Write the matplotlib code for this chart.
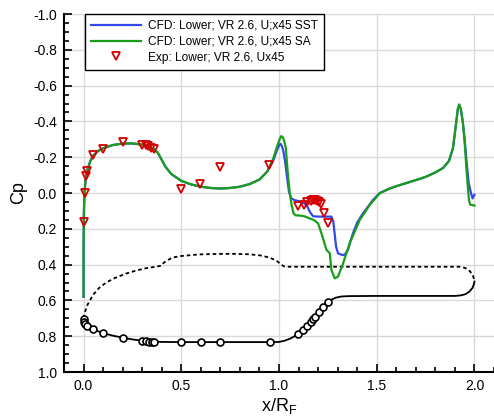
import matplotlib
matplotlib.use("Agg")
import matplotlib.pyplot as plt
from matplotlib.ticker import MultipleLocator

plt.rcParams['font.family'] = ['Liberation Sans', 'DejaVu Sans']
plt.rcParams['axes.unicode_minus'] = False

# CFD, SST model (lower surface)
sst_x = [0.000, 0.000, 0.002, 0.005, 0.010, 0.020, 0.035, 0.050, 0.075, 0.10,
         0.15, 0.20, 0.25, 0.30, 0.33, 0.36, 0.38, 0.40, 0.42, 0.45, 0.50,
         0.55, 0.60, 0.65, 0.70, 0.75, 0.80, 0.85, 0.90, 0.94, 0.97, 0.99,
         1.000, 1.007, 1.015, 1.022, 1.030, 1.041, 1.051, 1.063, 1.08, 1.10,
         1.13, 1.145, 1.16, 1.175, 1.20, 1.24, 1.268, 1.278, 1.285, 1.292,
         1.302, 1.32, 1.336, 1.353, 1.365, 1.38, 1.40, 1.43, 1.46, 1.48,
         1.515, 1.56, 1.60, 1.65, 1.70, 1.75, 1.80, 1.84, 1.87, 1.89, 1.905,
         1.915, 1.922, 1.93, 1.94, 1.95, 1.96, 1.97, 1.98, 1.99, 2.0]
sst_cp = [0.58, 0.30, 0.10, 0.00, -0.07, -0.13, -0.18, -0.21, -0.235, -0.25,
          -0.268, -0.276, -0.277, -0.27, -0.262, -0.245, -0.225, -0.185, -0.145, -0.105, -0.068,
          -0.048, -0.035, -0.028, -0.025, -0.028, -0.035, -0.05, -0.075, -0.12, -0.18, -0.24,
          -0.265, -0.275, -0.262, -0.235, -0.185, -0.09, -0.007, 0.03, 0.04, 0.045,
          0.058, 0.075, 0.11, 0.13, 0.132, 0.132, 0.132, 0.16, 0.23, 0.30,
          0.337, 0.345, 0.346, 0.318, 0.27, 0.22, 0.165, 0.113, 0.07, 0.04,
          0.0, -0.022, -0.038, -0.055, -0.072, -0.09, -0.115, -0.14, -0.18, -0.25, -0.38,
          -0.47, -0.49, -0.47, -0.40, -0.30, -0.17, -0.06, -0.01, 0.03, 0.01]

# CFD, SA model (lower surface)
sa_x = [0.000, 0.000, 0.002, 0.005, 0.010, 0.020, 0.035, 0.050, 0.075, 0.10,
        0.15, 0.20, 0.25, 0.30, 0.33, 0.36, 0.38, 0.40, 0.42, 0.45, 0.50,
        0.55, 0.60, 0.65, 0.70, 0.75, 0.80, 0.85, 0.90, 0.94, 0.97, 0.99,
        1.005, 1.012, 1.02, 1.028, 1.035, 1.045, 1.055, 1.065, 1.075, 1.085,
        1.10, 1.13, 1.157, 1.18, 1.20, 1.217, 1.243, 1.26, 1.268, 1.285,
        1.302, 1.328, 1.362, 1.413, 1.464, 1.515, 1.56, 1.60, 1.65, 1.70,
        1.75, 1.80, 1.84, 1.87, 1.89, 1.905, 1.915, 1.922, 1.93, 1.94, 1.95,
        1.96, 1.965, 1.972, 1.978, 1.99, 2.0]
sa_cp = [0.58, 0.30, 0.10, 0.00, -0.07, -0.13, -0.18, -0.21, -0.235, -0.25,
         -0.268, -0.276, -0.277, -0.27, -0.262, -0.245, -0.225, -0.185, -0.145, -0.105, -0.068,
         -0.048, -0.035, -0.028, -0.025, -0.028, -0.035, -0.05, -0.075, -0.12, -0.19, -0.26,
         -0.305, -0.318, -0.31, -0.285, -0.25, -0.11, 0.0, 0.07, 0.115, 0.125,
         0.125, 0.13, 0.142, 0.152, 0.17, 0.225, 0.318, 0.337, 0.43, 0.477,
         0.467, 0.393, 0.28, 0.151, 0.067, 0.002, -0.022, -0.038, -0.055, -0.072,
         -0.09, -0.115, -0.14, -0.18, -0.25, -0.38, -0.47, -0.495, -0.47, -0.40, -0.28,
         -0.12, -0.05, 0.04, 0.065, 0.068, 0.07]

# Experiment (lower surface taps)
exp_x = [0.000, 0.008, 0.014, 0.019, 0.046, 0.097, 0.20, 0.30, 0.317, 0.33,
         0.346, 0.363, 0.50, 0.595, 0.70, 0.95, 1.097, 1.127, 1.145, 1.162,
         1.174, 1.186, 1.196, 1.204, 1.216, 1.232, 1.253]
exp_cp = [0.16, 0.0, -0.095, -0.125, -0.21, -0.245, -0.285, -0.27, -0.27, -0.26,
          -0.25, -0.245, -0.025, -0.05, -0.145, -0.155, 0.07, 0.065, 0.05, 0.045,
          0.04, 0.04, 0.043, 0.048, 0.06, 0.11, 0.17]

# Geometry: lower surface outline with tap locations, upper outline dashed
geo_low_x = [0.0, 0.005, 0.015, 0.03, 0.05, 0.1, 0.15, 0.2, 0.25, 0.3, 0.35, 0.4,
             0.5, 0.7, 0.95, 1.0, 1.03, 1.06, 1.08, 1.1, 1.12, 1.14, 1.16, 1.18,
             1.2, 1.225, 1.25, 1.27, 1.29, 1.32, 1.36, 1.5, 1.9, 1.93, 1.955,
             1.975, 1.99, 1.997, 2.0]
geo_low_y = [0.70, 0.72, 0.74, 0.752, 0.762, 0.783, 0.797, 0.808, 0.818, 0.825, 0.83, 0.832,
             0.833, 0.833, 0.833, 0.832, 0.825, 0.812, 0.80, 0.788, 0.767, 0.745, 0.722, 0.697,
             0.67, 0.638, 0.612, 0.595, 0.585, 0.578, 0.576, 0.575, 0.575, 0.572, 0.565,
             0.55, 0.53, 0.51, 0.495]

tap_x = [0.0, 0.002, 0.009, 0.017, 0.05, 0.1, 0.2, 0.3, 0.317, 0.334, 0.35, 0.362,
         0.5, 0.6, 0.7, 0.952, 1.099, 1.121, 1.142, 1.162, 1.174, 1.184, 1.205,
         1.225, 1.253]
tap_y = [0.705, 0.72, 0.732, 0.741, 0.76, 0.782, 0.808, 0.825, 0.829, 0.83, 0.83, 0.83,
         0.832, 0.832, 0.832, 0.832, 0.788, 0.765, 0.743, 0.72, 0.706, 0.69, 0.663,
         0.635, 0.611]

geo_up_x = [0.0, 0.005, 0.02, 0.048, 0.08, 0.116, 0.16, 0.218, 0.27, 0.32, 0.37, 0.398,
            0.41, 0.43, 0.457, 0.5, 0.594, 0.7, 0.764, 0.84, 0.9, 0.95, 0.987, 1.01,
            1.025, 1.05, 1.93, 1.955, 1.975, 1.99, 2.0]
geo_up_y = [0.70, 0.672, 0.625, 0.57, 0.53, 0.50, 0.475, 0.45, 0.433, 0.42, 0.412, 0.406,
            0.39, 0.375, 0.36, 0.352, 0.343, 0.34, 0.34, 0.342, 0.348, 0.36, 0.378, 0.398,
            0.41, 0.412, 0.412, 0.42, 0.435, 0.455, 0.487]

fig = plt.figure(figsize=(4.94, 4.18), dpi=100)
ax = fig.add_axes([64 / 494, 1 - 372 / 418, 430 / 494, 358 / 418])

ax.plot(geo_up_x, geo_up_y, color='black', lw=1.3, dashes=(2, 1.6))
ax.plot(geo_low_x, geo_low_y, color='black', lw=1.3)
ax.plot(tap_x, tap_y, 'o', ms=5, mfc='white', mec='black', mew=1.2)

ax.plot(sst_x, sst_cp, color='#3347ee', lw=1.6, label='CFD: Lower; VR 2.6, U;x45 SST')
ax.plot(sa_x, sa_cp, color='#1a9e1a', lw=1.6, label='CFD: Lower; VR 2.6, U;x45 SA')
ax.plot(exp_x, exp_cp, 'v', ms=6, mfc='none', mec='#d40000', mew=1.3,
        label='Exp: Lower; VR 2.6, Ux45')

ax.set_xlim(-0.1, 2.1)
ax.set_ylim(1.0, -1.0)
ax.xaxis.set_major_locator(MultipleLocator(0.5))
ax.xaxis.set_minor_locator(MultipleLocator(0.1))
ax.yaxis.set_major_locator(MultipleLocator(0.2))
ax.yaxis.set_minor_locator(MultipleLocator(0.05))
ax.xaxis.set_major_formatter(plt.FormatStrFormatter('%.1f'))
ax.yaxis.set_major_formatter(plt.FormatStrFormatter('%.1f'))
ax.tick_params(which='both', direction='in', labelsize=10, width=1.2, color='black')
ax.tick_params(which='major', length=6, pad=5)
ax.tick_params(which='minor', length=3.5)

ax.grid(True, which='major', color='#d9d9d9', lw=1)
ax.set_axisbelow(True)
for side in ('top', 'right'):
    ax.spines[side].set_visible(False)
for side in ('left', 'bottom'):
    ax.spines[side].set_linewidth(1.5)

ax.set_ylabel('Cp', fontsize=13, labelpad=4)
ax.set_xlabel('x/R$_\\mathregular{F}$', fontsize=13, labelpad=2)

leg = ax.legend(loc='upper left', bbox_to_anchor=(0.049, 1.0), borderaxespad=0,
                fontsize=8.6, handlelength=4.2, handletextpad=0.6, labelspacing=0.32,
                borderpad=0.5, fancybox=False, framealpha=1, edgecolor='black')
leg.get_frame().set_linewidth(1.0)

fig.savefig('out.png', dpi=100)
